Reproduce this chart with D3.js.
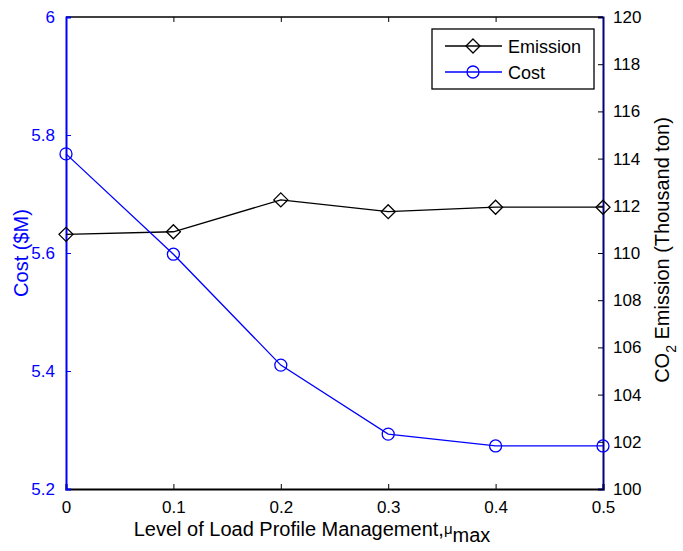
<!DOCTYPE html>
<meta charset="utf-8">
<script src="https://d3js.org/d3.v7.min.js"></script>
<style>
  body { margin: 0; background: #fff; }
  text { font-family: "Liberation Sans", Arial, sans-serif; }
</style>
<div id="my_dataviz"></div>
<script>
// data
const levels = [0, 0.1, 0.2, 0.3, 0.4, 0.5];
const cost = [5.768, 5.598, 5.410, 5.293, 5.273, 5.273];
const emission = [110.79, 110.9, 112.25, 111.75, 111.94, 111.94];
const xTicks = [0, 0.1, 0.2, 0.3, 0.4, 0.5];
const costTicks = [5.2, 5.4, 5.6, 5.8, 6];
const emisTicks = [100, 102, 104, 106, 108, 110, 112, 114, 116, 118, 120];

const W = 683, H = 551;
const margin = { top: 17, right: 80, bottom: 62, left: 66 };
const width = 603 - margin.left, height = 489 - margin.top;

const svg = d3.select("#my_dataviz").append("svg")
  .attr("width", W).attr("height", H)
  .append("g")
  .attr("transform", `translate(${margin.left},${margin.top})`);

const x = d3.scaleLinear().domain([0, 0.5]).range([0, width]);
const yL = d3.scaleLinear().domain([5.2, 6]).range([height, 0]);
const yR = d3.scaleLinear().domain([100, 120]).range([height, 0]);

const blue = "#0000ff";

// top border
svg.append("line").attr("x1", 0).attr("x2", width).attr("y1", 0).attr("y2", 0)
  .attr("stroke", "#000").attr("stroke-width", 1.5);

// x axis (bottom) with inward ticks
const gx = svg.append("g").attr("transform", `translate(0,${height})`)
  .call(d3.axisBottom(x).tickValues(xTicks).tickSize(-5).tickPadding(12)
    .tickFormat(d => d === 0 ? "0" : d3.format(".1f")(d)));
gx.select(".domain").attr("stroke-width", 2.2);
gx.selectAll("text").style("font-size", "17px").attr("fill", "#000");

// top ticks
svg.append("g").call(d3.axisTop(x).tickValues(xTicks).tickSize(-5).tickFormat(""))
  .call(g => g.select(".domain").remove());

// left axis
const gl = svg.append("g")
  .call(d3.axisLeft(yL).tickValues(costTicks).tickSize(-5).tickPadding(11)
    .tickFormat(d => d === 6 ? "6" : d3.format(".1f")(d)));
gl.select(".domain").attr("stroke", blue).attr("stroke-width", 2);
gl.selectAll("line").attr("stroke", blue);
gl.selectAll("text").attr("fill", blue).style("font-size", "17px");

// right axis
const gr = svg.append("g").attr("transform", `translate(${width},0)`)
  .call(d3.axisRight(yR).tickValues(emisTicks).tickSize(-5).tickPadding(10));
gr.select(".domain").attr("stroke", "#000080").attr("stroke-width", 2);
gr.selectAll("text").attr("fill", "#000").style("font-size", "17px");

// lines
const lineC = d3.line().x((d, i) => x(levels[i])).y(d => yL(d));
const lineE = d3.line().x((d, i) => x(levels[i])).y(d => yR(d));

svg.append("path").datum(emission).attr("d", lineE)
  .attr("fill", "none").attr("stroke", "#000").attr("stroke-width", 1.3);
svg.append("path").datum(cost).attr("d", lineC)
  .attr("fill", "none").attr("stroke", blue).attr("stroke-width", 1.3);

const diamond = s => `M0,${-s}L${s},0L0,${s}L${-s},0Z`;

svg.selectAll(".em").data(emission).join("path")
  .attr("class", "em")
  .attr("transform", (d, i) => `translate(${x(levels[i])},${yR(d)})`)
  .attr("d", diamond(7))
  .attr("fill", "none").attr("stroke", "#000").attr("stroke-width", 1.3);

svg.selectAll(".co").data(cost).join("circle")
  .attr("class", "co")
  .attr("cx", (d, i) => x(levels[i])).attr("cy", d => yL(d)).attr("r", 6)
  .attr("fill", "none").attr("stroke", blue).attr("stroke-width", 1.3);

// legend
const lg = svg.append("g").attr("transform", `translate(${432 - margin.left},${29 - margin.top})`);
lg.append("rect").attr("width", 162).attr("height", 60)
  .attr("fill", "#fff").attr("stroke", "#000").attr("stroke-width", 1.3);
const legendItems = [
  { name: "Emission", color: "#000", mark: "d" },
  { name: "Cost", color: blue, mark: "c" }
];
legendItems.forEach((it, i) => {
  const yy = 17 + i * 26;
  lg.append("line").attr("x1", 13).attr("x2", 70).attr("y1", yy).attr("y2", yy)
    .attr("stroke", it.color).attr("stroke-width", 1.3);
  if (it.mark === "d") {
    lg.append("path").attr("transform", `translate(41,${yy})`).attr("d", diamond(7))
      .attr("fill", "none").attr("stroke", it.color).attr("stroke-width", 1.3);
  } else {
    lg.append("circle").attr("cx", 41).attr("cy", yy).attr("r", 6)
      .attr("fill", "none").attr("stroke", it.color).attr("stroke-width", 1.3);
  }
  lg.append("text").attr("x", 76).attr("y", yy + 7).style("font-size", "18px")
    .attr("fill", "#000").text(it.name);
});

// axis labels
const xl = svg.append("text")
  .attr("x", 312 - margin.left).attr("y", height + 47)
  .attr("text-anchor", "middle").style("font-size", "20px").attr("fill", "#000");
xl.append("tspan").text("Level of Load Profile Management,");
xl.append("tspan").style("font-size", "15px").attr("dy", -2).text("μ");
xl.append("tspan").style("font-size", "20px").attr("dy", 8).text("max");

svg.append("text")
  .attr("transform", `translate(${-38},${height / 2}) rotate(-90)`)
  .attr("text-anchor", "middle").style("font-size", "20px").attr("fill", blue)
  .text("Cost ($M)");

const yr = svg.append("text")
  .attr("transform", `translate(${width + 66},${height / 2 - 3}) rotate(-90)`)
  .attr("text-anchor", "middle").style("font-size", "20px").attr("fill", "#000");
yr.append("tspan").text("CO");
yr.append("tspan").style("font-size", "14px").attr("dy", 7).text("2");
yr.append("tspan").attr("dy", -7).text(" Emission  (Thousand ton)");
</script>
